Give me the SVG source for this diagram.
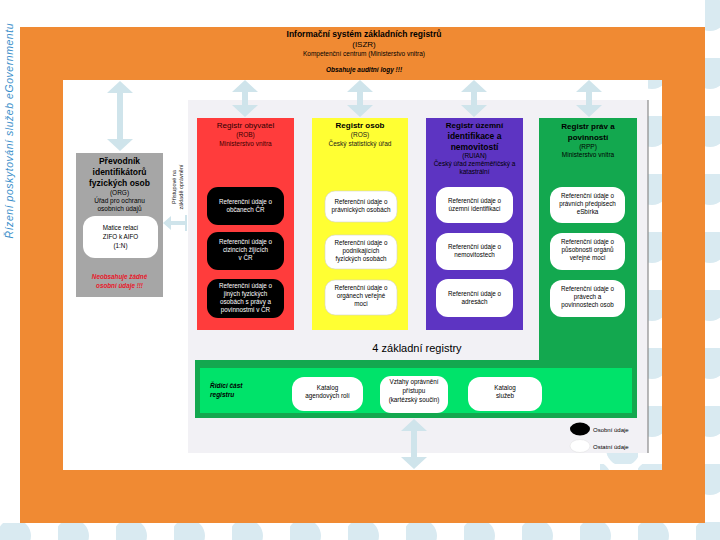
<svg xmlns="http://www.w3.org/2000/svg" width="720" height="540" viewBox="0 0 720 540">
<defs>
<pattern id="dots" x="0" y="0" width="58" height="58" patternUnits="userSpaceOnUse">
<circle cx="14" cy="14" r="17" fill="#d9eaf1"/>
<circle cx="43" cy="43" r="17" fill="#d9eaf1"/>
</pattern>
<clipPath id="dotclip">
<path d="M705 0 H720 V540 H0 V523 H705 Z M648 80 H662 V470 H600 V453 H648 Z"/>
</clipPath>
<style>
text{font-family:"Liberation Sans",Arial,sans-serif;text-anchor:middle;}
.h{font-size:8px;font-weight:bold;fill:#000;}
.hn{font-size:8px;fill:#2a0000;}
.s{font-size:6.5px;fill:#1a1a1a;}
.b{font-size:6.3px;fill:#000;}
.bw{font-size:6.3px;fill:#fff;}
.arr{fill:#cfe4eb;}
.wb{fill:#fff;stroke:#d0d0d0;stroke-width:0.6;}
</style>
</defs>
<rect x="0" y="0" width="720" height="540" fill="#fff"/>
<rect x="0" y="0" width="720" height="540" fill="url(#dots)" clip-path="url(#dotclip)"/>
<path d="M20 27 H705 V523 H20 Z M63 80 V470 H662 V80 Z" fill="#f08a33" fill-rule="evenodd"/>
<rect x="188" y="100" width="460" height="353" fill="#f2f1f5"/>
<path d="M648 100 V453" stroke="#8a8a8a" stroke-width="1.2" fill="none"/>

<g id="side-label">
<text transform="translate(13,131) rotate(-90)" textLength="215" lengthAdjust="spacing" style="font-size:10.5px;font-style:italic;fill:#3b8fca;">Řízení poskytování služeb eGovernmentu</text>
</g>

<g id="iszr">
<text x="364" y="37" class="h" style="font-size:8.5px;">Informační systém základních registrů</text>
<text x="364" y="47" style="font-size:8px;fill:#000;">(ISZR)</text>
<text x="364" y="56" style="font-size:6.5px;fill:#000;">Kompetenční centrum (Ministerstvo vnitra)</text>
<text x="364" y="72" style="font-size:6.5px;font-weight:bold;font-style:italic;fill:#000;">Obsahuje auditní logy !!!</text>
</g>

<g id="connectors">
<path class="arr" d="M120 81 L133 93 L123 93 L123 139 L133 139 L120 151 L107 139 L117 139 L117 93 L107 93 Z"/>
<path class="arr" d="M245 80 L258 92 L248 92 L248 105 L258 105 L245 117 L232 105 L242 105 L242 92 L232 92 Z"/>
<path class="arr" d="M360 80 L373 92 L363 92 L363 105 L373 105 L360 117 L347 105 L357 105 L357 92 L347 92 Z"/>
<path class="arr" d="M474 80 L487 92 L477 92 L477 105 L487 105 L474 117 L461 105 L471 105 L471 92 L461 92 Z"/>
<path class="arr" d="M589 80 L602 92 L592 92 L592 105 L602 105 L589 117 L576 105 L586 105 L586 92 L576 92 Z"/>
<path class="arr" d="M414 419 L427 431 L417 431 L417 457 L427 457 L414 469 L401 457 L411 457 L411 431 L401 431 Z"/>
<path class="arr" d="M163 223 L171 216 L171 221 L185 221 L185 225 L171 225 L171 230 Z"/>
<path d="M186 215 V231" stroke="#cfe4eb" stroke-width="2"/>
</g>

<g id="access-label">
<text transform="translate(176,187) rotate(-90)" style="font-size:5.5px;fill:#222;">Přístupové na</text>
<text transform="translate(183,187) rotate(-90)" style="font-size:5.5px;fill:#222;">základě oprávnění</text>
</g>

<g id="orf">
<rect x="76" y="153" width="87" height="144" fill="#a6a6a6"/>
<text x="119.5" y="164" style="font-size:8.5px;font-weight:bold;fill:#000;">Převodník</text>
<text x="119.5" y="175" style="font-size:8.5px;font-weight:bold;fill:#000;">identifikátorů</text>
<text x="119.5" y="186" style="font-size:8.5px;font-weight:bold;fill:#000;">fyzických osob</text>
<text x="119.5" y="195" class="s" style="fill:#000;">(ORG)</text>
<text x="119.5" y="203" class="s" style="fill:#000;">Úřad pro ochranu</text>
<text x="119.5" y="211" class="s" style="fill:#000;">osobních údajů</text>
<rect x="83" y="216" width="75" height="42" rx="12" fill="#fff"/>
<text x="120.5" y="230" class="b">Matice relací</text>
<text x="120.5" y="239" class="b">ZIFO k AIFO</text>
<text x="120.5" y="248" class="b">(1:N)</text>
<text x="119.5" y="279" style="font-size:6.3px;font-weight:bold;font-style:italic;fill:#e8182a;">Neobsahuje žádné</text>
<text x="119.5" y="288" style="font-size:6.3px;font-weight:bold;font-style:italic;fill:#e8182a;">osobní údaje !!!</text>
</g>

<g id="rob">
<rect x="197" y="118" width="97" height="212" fill="#ff3c3c"/>
<text x="245.5" y="128" class="hn">Registr obyvatel</text>
<text x="245.5" y="137" class="s" style="fill:#3a0000;">(ROB)</text>
<text x="245.5" y="146" class="s" style="fill:#3a0000;">Ministerstvo vnitra</text>
<rect x="207" y="187" width="77" height="38" rx="11" fill="#000"/>
<text x="245.5" y="204" class="bw">Referenční údaje o</text>
<text x="245.5" y="212" class="bw">občanech ČR</text>
<rect x="207" y="232" width="77" height="38" rx="11" fill="#000"/>
<text x="245.5" y="244" class="bw">Referenční údaje o</text>
<text x="245.5" y="252" class="bw">cizincích žijících</text>
<text x="245.5" y="260" class="bw">v ČR</text>
<rect x="207" y="279" width="77" height="39" rx="11" fill="#000"/>
<text x="245.5" y="288" class="bw">Referenční údaje o</text>
<text x="245.5" y="296" class="bw">jiných fyzických</text>
<text x="245.5" y="304" class="bw">osobách s právy a</text>
<text x="245.5" y="312" class="bw">povinnostmi v ČR</text>
</g>

<g id="ros">
<rect x="312" y="118" width="96" height="212" fill="#ffff33"/>
<text x="360" y="128" class="h">Registr osob</text>
<text x="360" y="137" class="s">(ROS)</text>
<text x="360" y="146" class="s">Český statistický úřad</text>
<rect x="325" y="191" width="72" height="31" rx="10" class="wb"/>
<text x="361" y="204" class="b">Referenční údaje o</text>
<text x="361" y="212" class="b">právnických osobách</text>
<rect x="325" y="235" width="72" height="34" rx="10" class="wb"/>
<text x="361" y="245" class="b">Referenční údaje o</text>
<text x="361" y="253" class="b">podnikajících</text>
<text x="361" y="261" class="b">fyzických osobách</text>
<rect x="325" y="280" width="72" height="35" rx="10" class="wb"/>
<text x="361" y="290" class="b">Referenční údaje o</text>
<text x="361" y="298" class="b">orgánech veřejné</text>
<text x="361" y="306" class="b">moci</text>
</g>

<g id="ruian">
<rect x="426" y="118" width="97" height="212" fill="#5d34c2"/>
<text x="474.5" y="128" class="h">Registr územní</text>
<text x="474.5" y="139" class="h" style="font-size:8.5px;">identifikace a</text>
<text x="474.5" y="150" class="h" style="font-size:8.5px;">nemovitostí</text>
<text x="474.5" y="158" class="s" style="fill:#000;">(RUIAN)</text>
<text x="474.5" y="166" class="s" style="fill:#000;">Český úřad zeměměřičský a</text>
<text x="474.5" y="174" class="s" style="fill:#000;">katastrální</text>
<rect x="436" y="187" width="77" height="36" rx="12" fill="#fff"/>
<text x="474.5" y="203" class="b">Referenční údaje o</text>
<text x="474.5" y="211" class="b">územní identifikaci</text>
<rect x="436" y="233" width="77" height="37" rx="12" fill="#fff"/>
<text x="474.5" y="249" class="b">Referenční údaje o</text>
<text x="474.5" y="257" class="b">nemovitostech</text>
<rect x="436" y="279" width="77" height="38" rx="12" fill="#fff"/>
<text x="474.5" y="296" class="b">Referenční údaje o</text>
<text x="474.5" y="304" class="b">adresách</text>
</g>

<g id="rpp">
<path d="M539 118 H637 V418 H195 V360 H539 Z" fill="#13a84f"/>
<text x="588" y="129" class="h">Registr práv a</text>
<text x="588" y="140" class="h">povinností</text>
<text x="588" y="149" class="s" style="fill:#000;">(RPP)</text>
<text x="588" y="157" class="s" style="fill:#000;">Ministerstvo vnitra</text>
<rect x="550" y="187" width="75" height="36" rx="12" fill="#fff"/>
<text x="587.5" y="198" class="b">Referenční údaje o</text>
<text x="587.5" y="206" class="b">právních předpisech</text>
<text x="587.5" y="214" class="b">eSbírka</text>
<rect x="550" y="233" width="75" height="37" rx="12" fill="#fff"/>
<text x="587.5" y="244" class="b">Referenční údaje o</text>
<text x="587.5" y="252" class="b">působnosti orgánů</text>
<text x="587.5" y="260" class="b">veřejné moci</text>
<rect x="550" y="280" width="75" height="37" rx="12" fill="#fff"/>
<text x="587.5" y="291" class="b">Referenční údaje o</text>
<text x="587.5" y="299" class="b">právech a</text>
<text x="587.5" y="307" class="b">povinnostech osob</text>
</g>

<g id="registry-caption">
<text x="417" y="352" style="font-size:11px;fill:#000;">4 základní registry</text>
</g>

<g id="control">
<rect x="200" y="368" width="432" height="45" fill="#00e36a"/>
<text x="210" y="388" style="font-size:6.5px;font-weight:bold;font-style:italic;fill:#000;text-anchor:start;">Řídící část</text>
<text x="210" y="397" style="font-size:6.5px;font-weight:bold;font-style:italic;fill:#000;text-anchor:start;">registru</text>
<rect x="292" y="377" width="71" height="34" rx="12" fill="#fff"/>
<text x="327.5" y="390" class="b">Katalog</text>
<text x="327.5" y="398" class="b">agendových rolí</text>
<rect x="380" y="376" width="68" height="37" rx="11" fill="#fff"/>
<text x="414" y="384" class="b">Vztahy oprávnění</text>
<text x="414" y="393" class="b">přístupu</text>
<text x="414" y="402" class="b">(kartézský součin)</text>
<rect x="468" y="377" width="74" height="34" rx="12" fill="#fff"/>
<text x="505" y="390" class="b">Katalog</text>
<text x="505" y="398" class="b">služeb</text>
</g>

<g id="legend">
<ellipse cx="580" cy="429" rx="10" ry="6.5" fill="#000"/>
<ellipse cx="580" cy="446" rx="10" ry="6.5" fill="#fff" stroke="#e2e2e2" stroke-width="0.6"/>
<text x="593" y="432" style="font-size:6px;fill:#000;text-anchor:start;">Osobní údaje</text>
<text x="593" y="449" style="font-size:6px;fill:#000;text-anchor:start;">Ostatní údaje</text>
</g>
</svg>
